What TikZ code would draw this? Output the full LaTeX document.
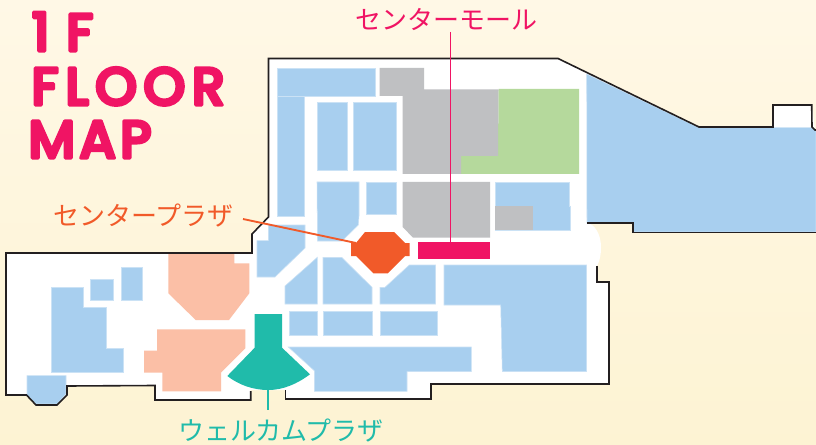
\documentclass[tikz,border=0pt]{standalone}
\usepackage{fontspec}
\newfontfamily\jpfont{Noto Sans CJK JP}
\newfontfamily\titlefonta[LetterSpace=30]{Poppins Medium}
\newfontfamily\titlefontb[LetterSpace=12]{Poppins Medium}
\newfontfamily\titlefontc[LetterSpace=7]{Poppins Medium}
\newcommand{\roundstroke}[1]{\special{pdf:code 1 j 1 J 2.4 w 0.941 0.078 0.392 RG 2 Tr}#1\special{pdf:code 0 Tr 0 J 0 j}}
\definecolor{bgtop}{HTML}{FFF8E6}
\definecolor{bgbot}{HTML}{FDF3D3}
\definecolor{shop}{HTML}{A8CFEF}
\definecolor{grayarea}{HTML}{BFC0C2}
\definecolor{greenarea}{HTML}{B5D99C}
\definecolor{peach}{HTML}{FBBFA6}
\definecolor{pinkc}{HTML}{F01464}
\definecolor{orangec}{HTML}{F15A29}
\definecolor{tealc}{HTML}{20BBAA}
\definecolor{wall}{HTML}{231F20}
\tikzset{
  shopa/.style={fill=shop,draw=shop!60!white,line width=0.4pt},
  wallline/.style={draw=wall,line width=1.2pt,line join=miter},
  jplabel/.style={font=\jpfont\fontsize{19.5}{19.5}\selectfont,inner sep=0pt,anchor=center},
  titlelabel/.style={text=pinkc,inner sep=0pt,anchor=base west},
  leader/.style={line width=1.4pt}
}
\begin{document}
\begin{tikzpicture}[x=0.75pt,y=-0.75pt]
\useasboundingbox (0,0) rectangle (816,445);
\shade[top color=bgtop,bottom color=bgbot] (0,0) rectangle (816,445);
% floor
\fill[white] (268.5,58.5) -- (558,58.5) -- (699,127) -- (773,127) -- (773,105) -- (812,105) -- (815,130) -- (816,130) -- (816,232) -- (632.7,232) -- (632.7,223) -- (587,223) .. controls (595,224) and (601,235) .. (601,247) .. controls (601,255) and (600,260) .. (597,266) -- (597,282) -- (609,282) -- (609,384) -- (431,384) -- (431,399) -- (285.5,399) -- (285.5,390) -- (250.7,390) -- (250.7,400) -- (155,400) -- (155,385.5) -- (67,386) -- (67,395) -- (57,405) -- (36,405) -- (26.5,395) -- (6,395) -- (6,253) -- (252,253) -- (252,234) -- (268.5,217) -- cycle;
% shops
\path[shopa] (277,68) rectangle (375,96);
\path[shopa] (277.3,96) rectangle (304.7,216.7);
\path[shopa] (317,102) rectangle (347,170.7);
\path[shopa] (353.3,102) rectangle (396,170.7);
\path[shopa] (317,182) -- (359,182) -- (359,216) -- (358.3,225) -- (342,241) -- (317.5,241) -- cycle;
\path[shopa] (366,182) rectangle (396,214.7);
\path[shopa] (257,240.7) -- (268.3,240.7) -- (268.3,225) -- (305,225) -- (305,248) -- (275,277) -- (257,277) -- cycle;
\path[shopa] (495,182.3) -- (569.3,182.3) -- (569.3,206) -- (570,206) -- (570,230) -- (495,230) -- cycle;
\path[shopa] (586.7,74) -- (699,127.7) -- (773.3,127.7) -- (811.7,127.7) -- (815,130) -- (816,130) -- (816,232) -- (632.7,232) -- (632.7,223) -- (587,223) -- cycle;
\path[shopa] (285,286) -- (317.3,257.3) -- (317.3,304) -- (285,304) -- cycle;
\path[shopa] (323,257.3) -- (341.7,257.3) -- (372,287.3) -- (372,304) -- (323,304) -- cycle;
\path[shopa] (380,287.3) -- (385,287.3) -- (409.3,265) -- (435.7,265) -- (435.7,304) -- (380,304) -- cycle;
\path[shopa] (444,265) -- (586.7,265) -- (586.7,371.7) -- (502.3,371.7) -- (500.7,305) -- (444,305) -- cycle;
\path[shopa] (289.3,311.7) rectangle (317.3,335.7);
\path[shopa] (323,311.7) rectangle (372,335.7);
\path[shopa] (380,311.7) rectangle (437.3,335.7);
\path[shopa] (288.3,347) -- (471.3,347) -- (471.3,371.7) -- (407,371.7) -- (407,391.3) -- (314.3,391.3) -- (314.3,370.7) -- cycle;
\path[shopa] (51.7,287.3) -- (83,287.3) -- (83,307.3) -- (106.7,307.3) -- (106.7,348.3) -- (123.7,348.3) -- (123.7,372.3) -- (51.7,372.3) -- cycle;
\path[shopa] (90.7,279) rectangle (113,300.3);
\path[shopa] (121,267.3) rectangle (142.3,300);
\path[shopa] (27,375.7) -- (66,375.7) -- (66,394) -- (57,404) -- (36,404) -- (27,395) -- cycle;
% grey and green
\fill[greenarea] (498.5,89) -- (579,89) -- (579,174) -- (461,174) -- (461,156) -- (498,156) -- cycle;
\fill[grayarea] (379.7,68) -- (424,68) -- (424,89.3) -- (498.5,89.3) -- (498,156) -- (461,156) -- (461,174) -- (402.7,174) -- (402.7,96) -- (379.7,96) -- cycle;
\fill[grayarea] (402.7,182) -- (490,182) -- (490,237.7) -- (413,237.7) -- (402.7,227) -- cycle;
\fill[grayarea] (495,206) rectangle (533.3,230);
% peach
\fill[peach] (168.3,253.3) -- (234.3,253.3) -- (234.3,263.3) -- (249.3,263.3) -- (249.3,293.3) -- (229,320) -- (195.7,320) -- (168.3,293.3) -- cycle;
\fill[peach] (157,329.3) -- (245.3,329.3) -- (245.3,348.3) -- (221,372.7) -- (221,391.3) -- (162.3,391.3) -- (162.3,372.7) -- (144,372.7) -- (144,350.7) -- (157,350.7) -- cycle;
% walls
\draw[wallline] (250.7,391) -- (250.7,400) -- (155,400) -- (155,385.5) -- (67,386) -- (67,395) -- (57,405) -- (36,405) -- (26.5,395) -- (6,395) -- (6,253) -- (252,253) -- (252,234) -- (268.5,217) -- (268.5,58.5) -- (558,58.5) -- (699,127) -- (773,127) -- (773,105) -- (811.7,105) -- (812,127) -- (815,130) -- (816,130);
\draw[wallline] (587,223) -- (632.7,223) -- (632.7,232.5) -- (816,232.5);
\draw[wallline] (597,266) -- (597,282) -- (609,282) -- (609,384) -- (431,384) -- (431,399) -- (285.5,399) -- (285.5,390);
% plazas
\fill[orangec] (365,232) -- (394,232) -- (405,243) -- (409.5,243) -- (409.5,256) -- (405,256) -- (387.7,273.3) -- (373.3,273.3) -- (356,256) -- (351,256) -- (351,243) -- (356,243) -- cycle;
\node[fill=pinkc,minimum width=54pt,minimum height=12.75pt,inner sep=0pt] (mall) at (454,250.5) {};
\fill[tealc] (254.7,314) -- (282,314) -- (282,347.7) -- (310,374.3) .. controls (297,384) and (283,390) .. (268.3,390) .. controls (253,390) and (239,385) .. (227.3,376) -- (254.7,347.7) -- cycle;
% anchors
\coordinate (mallEnd) at (450.5,242);
\coordinate (mallStart) at (450.5,32);
\coordinate (centerStart) at (243,219);
\coordinate (centerEnd) at (356,243);
\coordinate (welcomeTop) at (268.3,390);
\coordinate (welcomeEnd) at (268.3,409.7);
% leaders
\draw[leader,draw=pinkc] (mallStart) -- (mallEnd);
\draw[leader,draw=orangec] (centerStart) -- (centerEnd);
\draw[leader,draw=tealc] (welcomeTop) -- (welcomeEnd);
% labels
\node[jplabel,text=pinkc] (lmall) at (446.5,19) {センターモール};
\node[jplabel,text=orangec] (lcenter) at (143.5,216) {センタープラザ};
\node[jplabel,text=tealc] (lwelcome) at (281,431) {ウェルカムプラザ};
\node[titlelabel,font=\titlefonta\fontsize{40}{40}\selectfont] (t1) at (31,51) {\roundstroke{1F}};
\node[titlelabel,font=\titlefontb\fontsize{40}{40}\selectfont] (t2) at (31,105) {\roundstroke{FLOOR}};
\node[titlelabel,font=\titlefontc\fontsize{40}{40}\selectfont] (t3) at (28,158) {\roundstroke{MAP}};
\end{tikzpicture}
\end{document}
